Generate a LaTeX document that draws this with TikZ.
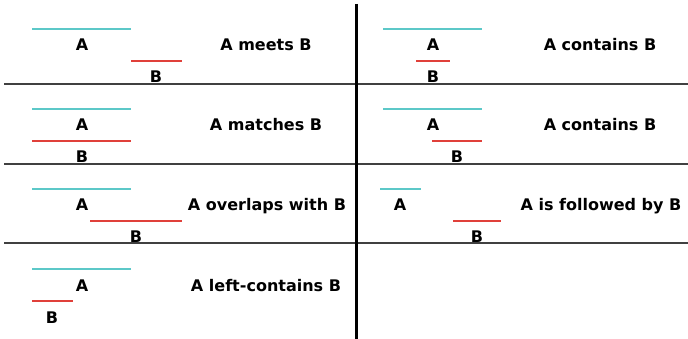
\documentclass[tikz,border=0pt]{standalone}
\usepackage{fontspec}
\setmainfont{DejaVu Sans}
\definecolor{spanA}{HTML}{5CC8C8}
\definecolor{spanB}{HTML}{E0403A}
\definecolor{rule}{HTML}{404040}
\begin{document}
\begin{tikzpicture}[x=1pt,y=-1pt,
  lbl/.style={inner sep=0pt,anchor=base,font=\fontsize{16}{16}\selectfont\bfseries},
  spana/.style={draw=spanA,line width=2.5pt},
  spanb/.style={draw=spanB,line width=2.5pt},
  divider/.style={draw=rule,line width=1.4pt},
  mainsep/.style={draw=black,line width=3pt}]
\useasboundingbox (0,0) rectangle (688,339);

% grid of panels
\draw[divider] (4,84) coordinate (h1l) -- (688,84) coordinate (h1r);
\draw[divider] (4,164) coordinate (h2l) -- (688,164) coordinate (h2r);
\draw[divider] (4,243) coordinate (h3l) -- (688,243) coordinate (h3r);
\draw[mainsep] (356,4) coordinate (vtop) -- (356,339) coordinate (vbot);

% meets
\coordinate (a1s) at (32,29); \coordinate (a1e) at (131,29);
\coordinate (b1s) at (131,61); \coordinate (b1e) at (182,61);
\draw[spana] (a1s) -- (a1e); \draw[spanb] (b1s) -- (b1e);
\node[lbl] (a1) at (82,51) {A};
\node[lbl] (b1) at (156,83) {B};
\node[lbl] (t1) at (266,51) {A meets B};

% matches
\coordinate (a2s) at (32,109); \coordinate (a2e) at (131,109);
\coordinate (b2s) at (32,141); \coordinate (b2e) at (131,141);
\draw[spana] (a2s) -- (a2e); \draw[spanb] (b2s) -- (b2e);
\node[lbl] (a2) at (82,131) {A};
\node[lbl] (b2) at (82,163) {B};
\node[lbl] (t2) at (266,131) {A matches B};

% overlaps
\coordinate (a3s) at (32,189); \coordinate (a3e) at (131,189);
\coordinate (b3s) at (90,221); \coordinate (b3e) at (182,221);
\draw[spana] (a3s) -- (a3e); \draw[spanb] (b3s) -- (b3e);
\node[lbl] (a3) at (82,211) {A};
\node[lbl] (b3) at (136,243) {B};
\node[lbl] (t3) at (267,211) {A overlaps with B};

% left-contains
\coordinate (a4s) at (32,269); \coordinate (a4e) at (131,269);
\coordinate (b4s) at (32,301); \coordinate (b4e) at (73,301);
\draw[spana] (a4s) -- (a4e); \draw[spanb] (b4s) -- (b4e);
\node[lbl] (a4) at (82,291) {A};
\node[lbl] (b4) at (52,323) {B};
\node[lbl] (t4) at (266,291) {A left-contains B};

% contains (inner)
\coordinate (a5s) at (383,29); \coordinate (a5e) at (482,29);
\coordinate (b5s) at (416,61); \coordinate (b5e) at (450,61);
\draw[spana] (a5s) -- (a5e); \draw[spanb] (b5s) -- (b5e);
\node[lbl] (a5) at (433,51) {A};
\node[lbl] (b5) at (433,83) {B};
\node[lbl] (t5) at (600,51) {A contains B};

% contains (right-aligned)
\coordinate (a6s) at (383,109); \coordinate (a6e) at (482,109);
\coordinate (b6s) at (432,141); \coordinate (b6e) at (482,141);
\draw[spana] (a6s) -- (a6e); \draw[spanb] (b6s) -- (b6e);
\node[lbl] (a6) at (433,131) {A};
\node[lbl] (b6) at (457,163) {B};
\node[lbl] (t6) at (600,131) {A contains B};

% followed by
\coordinate (a7s) at (380,189); \coordinate (a7e) at (421,189);
\coordinate (b7s) at (453,221); \coordinate (b7e) at (501,221);
\draw[spana] (a7s) -- (a7e); \draw[spanb] (b7s) -- (b7e);
\node[lbl] (a7) at (400,211) {A};
\node[lbl] (b7) at (477,243) {B};
\node[lbl] (t7) at (601,211) {A is followed by B};
\end{tikzpicture}
\end{document}
